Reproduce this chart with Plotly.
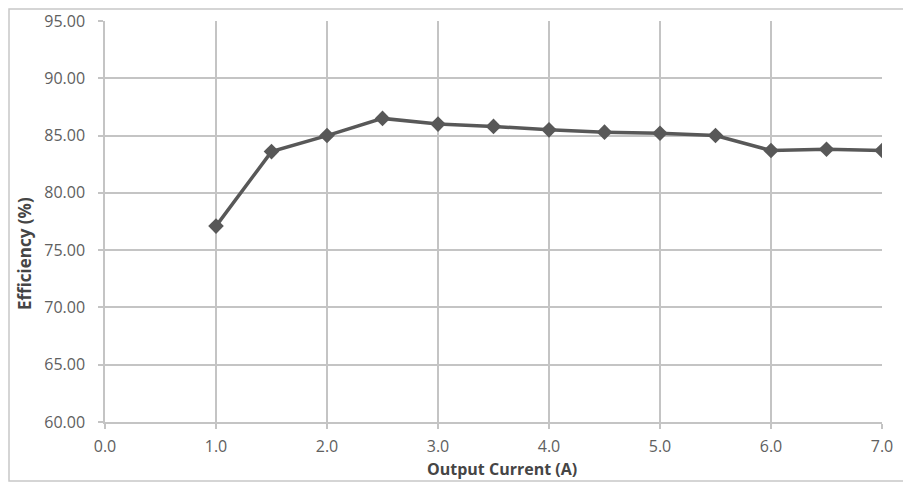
import plotly.graph_objects as go

current = [1.0, 1.5, 2.0, 2.5, 3.0, 3.5, 4.0, 4.5, 5.0, 5.5, 6.0, 6.5, 7.0]
efficiency = [77.1, 83.6, 85.0, 86.5, 86.0, 85.8, 85.5, 85.3, 85.2, 85.0, 83.7, 83.8, 83.7]

x_ticks = [0, 1, 2, 3, 4, 5, 6, 7]
x_tick_labels = ["0.0", "1.0", "2.0", "3.0", "4.0", "5.0", "6.0", "7.0"]
y_ticks = [60, 65, 70, 75, 80, 85, 90, 95]
y_tick_labels = ["60.00", "65.00", "70.00", "75.00", "80.00", "85.00", "90.00", "95.00"]

FONT = "Open Sans"
TXT = "#606060"
GRID = "#c4c4c4"

# page body has an 8px margin, so the figure is made 8px smaller and offsets reduced
fig = go.Figure()
fig.add_trace(go.Scatter(
    x=current, y=efficiency, mode="lines+markers",
    line=dict(color="#585858", width=3.5),
    marker=dict(symbol="diamond", size=12, color="#585858"),
    showlegend=False, hoverinfo="x+y",
))

fig.update_layout(
    width=903, height=477,
    margin=dict(l=97, r=29, t=13, b=63, autoexpand=False),
    paper_bgcolor="white", plot_bgcolor="white",
    font=dict(family=FONT, size=16, color=TXT),
    xaxis=dict(
        range=[0, 7], tickvals=x_ticks, ticktext=x_tick_labels,
        showgrid=True, gridcolor=GRID, gridwidth=1.5,
        showline=True, linecolor=GRID, linewidth=1.5,
        ticks="outside", ticklen=5, tickcolor=GRID, tickwidth=1.5,
        zeroline=False, tickfont=dict(size=16, color=TXT),
        ticklabelstandoff=4,
    ),
    yaxis=dict(
        range=[60, 95], tickvals=y_ticks, ticktext=y_tick_labels,
        showgrid=True, gridcolor=GRID, gridwidth=1.5,
        showline=True, linecolor=GRID, linewidth=1.5,
        ticks="outside", ticklen=5, tickcolor=GRID, tickwidth=1.5,
        zeroline=False, tickfont=dict(size=16, color=TXT),
        ticklabelstandoff=10,
    ),
    shapes=[dict(
        type="rect", xref="paper", yref="paper",
        x0=(1 - 97) / 777, x1=(899 - 97) / 777, y0=(414 - 473) / 401, y1=(414 - 1) / 401,
        line=dict(color="#c8c8c8", width=1.5), fillcolor="rgba(0,0,0,0)", layer="below",
    )],
    annotations=[
        dict(text="<b>Output Current (A)</b>", xref="paper", yref="paper",
             x=(502 - 105) / 777, y=(422 - 469) / 401, xanchor="center", yanchor="middle",
             showarrow=False, font=dict(size=16, color="#454545", family=FONT)),
        dict(text="<b>Efficiency (%)</b>", xref="paper", yref="paper",
             x=(24 - 105) / 777, y=(422 - 254) / 401, xanchor="center", yanchor="middle",
             textangle=-90, showarrow=False, font=dict(size=17, color="#454545", family=FONT)),
    ],
)

fig.write_html("out.html")
